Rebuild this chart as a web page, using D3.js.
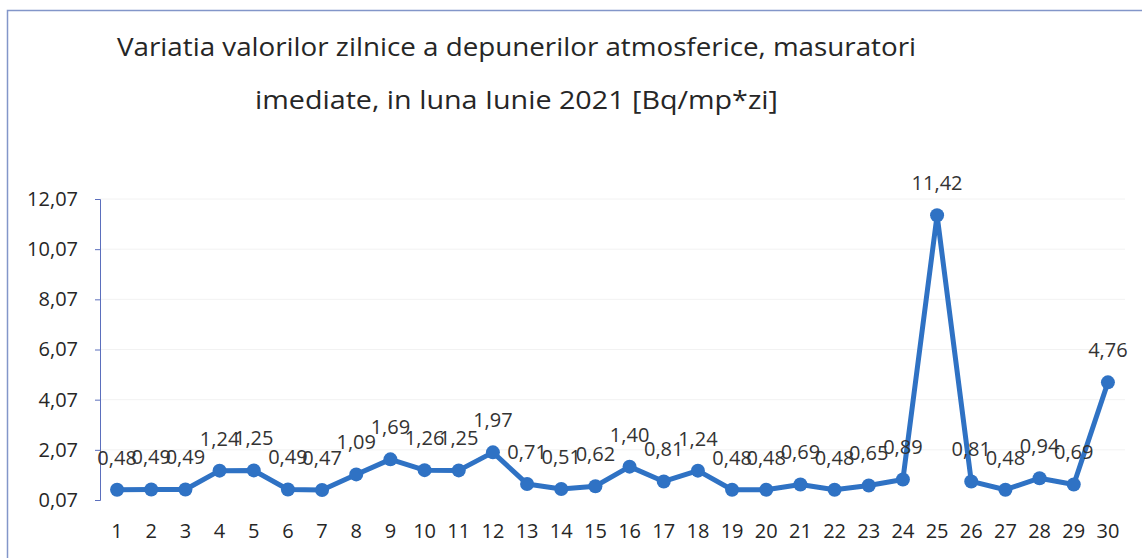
<!DOCTYPE html>
<html>
<head>
<meta charset="utf-8">
<script src="https://cdn.jsdelivr.net/npm/d3@7"></script>
<style>
  body { margin: 0; background: #fff; }
  svg { display: block; }
</style>
</head>
<body>
<div id="chart"></div>
<script>
const width = 1142,
      height = 558;

// Days of June 2021
const days = d3.range(1, 31).map(String);

// Daily values [Bq/mp*zi]
const values = [0.48, 0.49, 0.49, 1.24, 1.25, 0.49, 0.47, 1.09, 1.69, 1.26,
                1.25, 1.97, 0.71, 0.51, 0.62, 1.40, 0.81, 1.24, 0.48, 0.48,
                0.69, 0.48, 0.65, 0.89, 11.42, 0.81, 0.48, 0.94, 0.69, 4.76];

const yTicks = [0.07, 2.07, 4.07, 6.07, 8.07, 10.07, 12.07];

const titleLines = [
  "Variatia valorilor zilnice a depunerilor atmosferice, masuratori",
  "imediate,  in luna Iunie 2021 [Bq/mp*zi]"
];

const data = days.map((d, i) => ({ day: d, value: values[i] }));

const fmt = v => d3.format(".2f")(v).replace(".", ",");

const margin = { left: 100, right: 17, top: 199, bottom: 58 };

const x = d3.scalePoint()
    .domain(days)
    .range([margin.left, width - margin.right])
    .padding(0.5);

const y = d3.scaleLinear()
    .domain([0.07, 12.07])
    .range([height - margin.bottom, margin.top]);

const lineColor = "#2f72c4",
      axisColor = "#5b6fbd",
      textColor = "#262626",
      font = "'Open Sans', 'Noto Sans', sans-serif";

const svg = d3.select("#chart")
  .append("svg")
    .attr("width", width)
    .attr("height", height)
    .style("font-family", font);

// chart frame (left and top edge)
svg.append("path")
    .attr("d", `M7.5,${height} V10.5 H${width}`)
    .attr("fill", "none")
    .attr("stroke", "#8396c9")
    .attr("stroke-width", 1.5);

// Title
svg.append("text")
    .attr("x", 117)
    .attr("y", 56)
    .attr("font-size", 25)
    .attr("fill", textColor)
    .attr("textLength", 799)
    .attr("lengthAdjust", "spacingAndGlyphs")
    .text(titleLines[0]);

svg.append("text")
    .attr("x", 255)
    .attr("y", 109)
    .attr("font-size", 25)
    .attr("fill", textColor)
    .attr("textLength", 523)
    .attr("lengthAdjust", "spacingAndGlyphs")
    .text(titleLines[1]);

// faint gridlines
svg.append("g")
  .selectAll("line")
  .data(yTicks.slice(1))
  .join("line")
    .attr("x1", margin.left)
    .attr("x2", width - margin.right)
    .attr("y1", d => y(d))
    .attr("y2", d => y(d))
    .attr("stroke", "#f2f2f2");

// Y axis
const yAxis = svg.append("g")
    .attr("transform", `translate(${margin.left},0)`)
    .call(d3.axisLeft(y)
        .tickValues(yTicks)
        .tickFormat(fmt)
        .tickSize(5)
        .tickPadding(17));

yAxis.select(".domain").attr("stroke", axisColor);
yAxis.selectAll(".tick line").attr("stroke", axisColor);
yAxis.selectAll(".tick text")
    .attr("font-size", 20)
    .attr("font-family", font)
    .attr("fill", textColor);

// X labels
svg.append("g")
  .selectAll("text")
  .data(days)
  .join("text")
    .attr("x", d => x(d))
    .attr("y", 538)
    .attr("text-anchor", "middle")
    .attr("font-size", 20)
    .attr("fill", textColor)
    .text(d => d);

// Line
svg.append("path")
    .datum(data)
    .attr("fill", "none")
    .attr("stroke", lineColor)
    .attr("stroke-width", 5)
    .attr("stroke-linejoin", "round")
    .attr("d", d3.line()
        .x(d => x(d.day))
        .y(d => y(d.value)));

// Markers
svg.append("g")
  .selectAll("circle")
  .data(data)
  .join("circle")
    .attr("cx", d => x(d.day))
    .attr("cy", d => y(d.value))
    .attr("r", 7)
    .attr("fill", lineColor);

// Data labels
svg.append("g")
  .selectAll("text")
  .data(data)
  .join("text")
    .attr("x", d => x(d.day))
    .attr("y", d => y(d.value) - 25)
    .attr("text-anchor", "middle")
    .attr("font-size", 20)
    .attr("fill", "#333")
    .text(d => fmt(d.value));
</script>
</body>
</html>
